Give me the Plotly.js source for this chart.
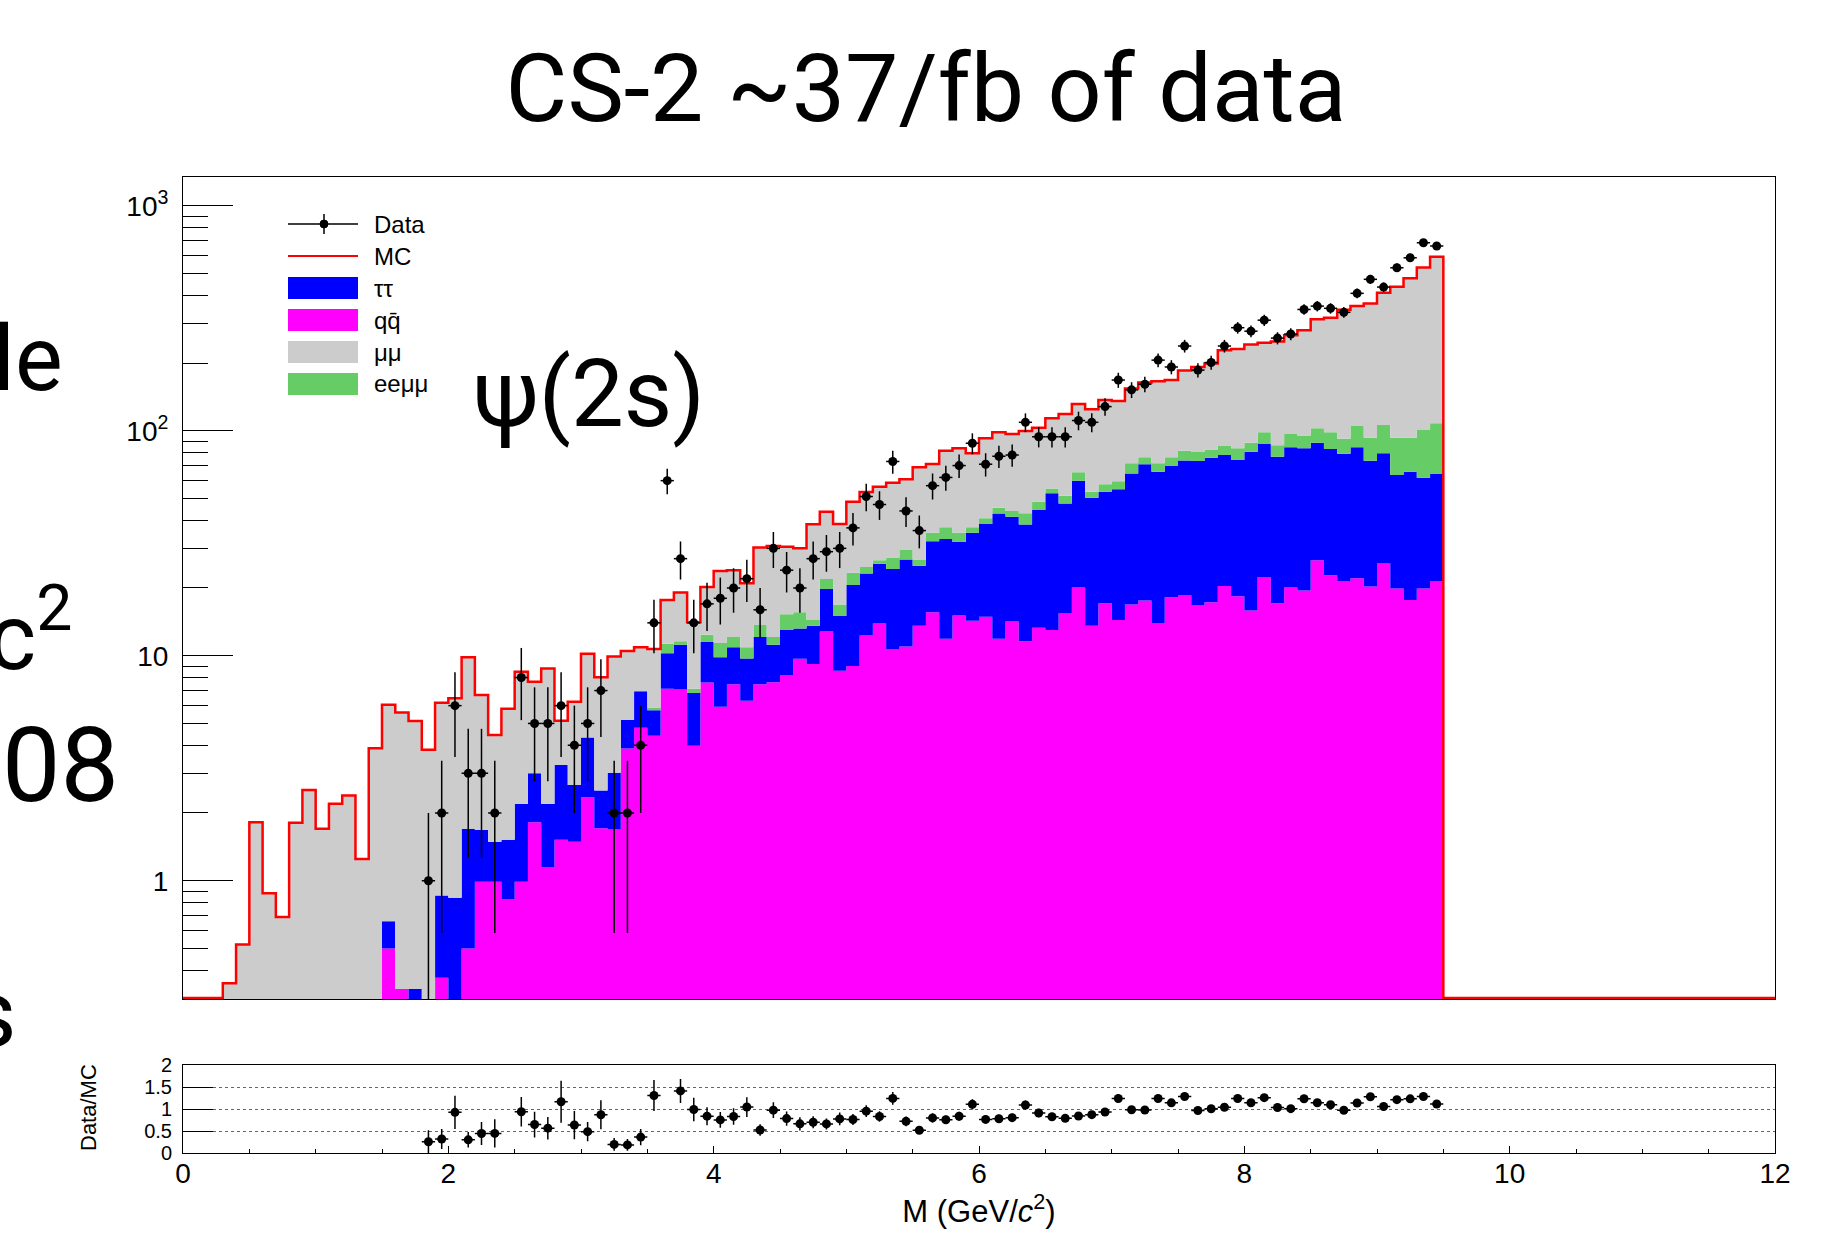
<!DOCTYPE html>
<html>
<head>
<meta charset="utf-8">
<script src="https://cdn.plot.ly/plotly-3.0.1.min.js"></script>
<style>html,body{margin:0;padding:0;background:#fff}#chart{width:1827px;height:1234px}</style>
</head>
<body>
<div id="chart"></div>
<script>
// ================= DATA =================
// bins of 0.1 GeV/c^2 starting at 0 (bin k covers [0.1k, 0.1k+0.1])
const binWidth = 0.1;
const axisBins = 120; // axis runs 0..12

const qqbar = [0,0,0,0,0,0,0,0,0,0, 0,0,0,0,0,0.50,0.33,0,0,0.37,
  0,0.50,0.99,0.99,0.83,0.99,1.82,1.15,1.52,1.49, 2.35,1.71,1.69,3.87,4.79,4.41,7.13,7.08,3.98,7.6,
  5.93,7.47,6.31,7.47,7.62,8.2,9.7,9.19,12.8,8.58, 9.0,12.3,13.9,10.7,11.0,13.6,15.6,11.9,15.1,14.3,
  14.9,11.9,14.2,11.6,13.3,13.0,15.5,20.1,13.6,17.1, 14.4,16.9,17.6,13.9,18.2,18.6,16.8,17.3,20.4,18.4,
  15.9,22.4,17.1,20.1,19.5,26.6,22.8,21.5,22.1,20.3, 25.7,19.9,17.7,19.9,21.5];

const tautau = [0,0,0,0,0,0,0,0,0,0, 0,0,0,0,0,0.16,0,0.33,0,0.49,
  0.84,1.20,0.69,0.50,0.69,1.20,1.18,1.04,1.75,1.17, 1.98,0.81,1.33,1.31,2.17,1.31,3.12,4.12,2.85,3.9,
  3.91,3.43,3.42,4.63,3.58,4.8,3.5,4.41,7.0,6.42, 11.6,10.9,11.7,13.6,15.8,11.5,16.7,21.1,16.9,20.9,
  23.6,31.0,27.3,26.7,31.1,39.7,32.0,39.8,36.8,36.5, 40.5,47.7,53.3,51.8,51.5,55.2,56.5,58.5,57.6,55.7,
  64.8,64.9,59.6,64.3,64.0,61.9,60.2,57.5,62.3,53.3, 53.7,43.6,48.0,41.9,42.7];

const eemumu = [0,0,0,0,0,0,0,0,0,0, 0,0,0,0,0,0,0,0,0,0,
  0,0,0,0,0,0,0,0,0,0, 0,0,0,0,0,0.17,1.05,0.4,0.3,0.9,
  1.56,1.2,1.17,1.6,0.9,2.3,2.4,0.8,2.1,1.9, 2.8,1.6,1.0,3.0,2.7,1.7,2.9,4.2,3.2,2.0,
  2.3,2.6,2.5,4.7,3.9,2.7,3.9,5.4,3.2,4.3, 4.8,7.0,5.3,5.9,6.5,7.6,7.1,6.8,7.5,9.4,
  7.8,11.1,9.6,12.3,11.8,14.0,15.4,13.2,20.6,19.5, 26.6,29.6,27.4,38.9,43.7];

const mumu = [0,0,0,0.35,0.52,1.82,0.88,0.69,1.81,2.53, 1.70,2.20,2.39,1.25,3.88,5.40,5.27,4.80,3.82,5.32,
  5.63,8.14,5.01,2.95,4.29,6.30,4.67,6.59,1.87,3.59, 5.87,5.50,6.91,5.32,3.94,4.81,6.4,7.5,6.97,7.8,
  12.4,11.9,10.1,16.6,18.6,15.2,14.4,24.0,21.7,21.6, 25.0,28.6,29.8,31.4,31.3,42.0,35.9,44.3,48.3,42.2,
  51.7,52.9,52.7,56.7,54.7,58.1,67.2,66.1,70.9,78.9, 75.7,82.6,87.8,94.4,91.8,103.6,111.6,116.4,142.5,147.5,
  153.5,147.6,162.7,169.3,184.7,210.5,219.6,252.8,253,274.9, 304,342.9,382.9,431.3,485.1];

const dataMass = [1.85,1.95,2.05,2.15,2.25,2.35,2.55,2.65,2.75,2.85,2.95,3.05,3.15,3.25,3.35,3.45,
  3.55,3.65,3.75,3.85,3.95,4.05,4.15,4.25,4.35,4.45,4.55,4.65,4.75,4.85,4.95,5.05,5.15,5.25,5.35,5.45,
  5.55,5.65,5.75,5.85,5.95,6.05,6.15,6.25,6.35,6.45,6.55,6.65,6.75,6.85,6.95,7.05,7.15,7.25,7.35,7.45,
  7.55,7.65,7.75,7.85,7.95,8.05,8.15,8.25,8.35,8.45,8.55,8.65,8.75,8.85,8.95,9.05,9.15,9.25,9.35,9.45];
const dataCounts = [1,2,6,3,3,2,8,5,5,6,4,5,7,2,2,4,
  14,60,27,14,17,18,20,22,16,30,24,20,27,29,30,37,51,47,73,44,
  36,57,62,70,88,71,77,78,109,94,94,94,111,109,128,168,152,161,206,192,
  238,186,201,238,287,277,310,258,269,346,358,350,336,408,471,435,530,587,685,662];

const yTickVals = [1, 10, 100, 1000];
const yTickText = ['1', '10', '10<sup>2</sup>', '10<sup>3</sup>'];
const xTickVals = [0, 2, 4, 6, 8, 10, 12];
const ratioTickVals = [0, 0.5, 1, 1.5, 2];
const ratioTickText = ['0', '0.5', '1', '1.5', '2'];

const components = [
  {name: 'qq\u0304', vals: qqbar, color: '#ff00ff'},
  {name: '\u03c4\u03c4', vals: tautau, color: '#0000ff'},
  {name: 'ee\u03bc\u03bc', vals: eemumu, color: '#66cc66'},
  {name: '\u03bc\u03bc', vals: mumu, color: '#cccccc'}
];

// ================= GEOMETRY / STYLE =================
const W = 1827, H = 1234;
const fx = x => x / W, fy = y => 1 - y / H;
const yMin = 0.2971, yMax = 1342;
const lineFloor = 0.301;
const sans = 'Liberation Sans, Arial, sans-serif';
const tickFont = {family: sans, size: 28, color: 'black'};
const slideFont = 'Roboto, Noto Sans, sans-serif';

const nHist = qqbar.length;
const edge = k => Math.round(k * binWidth * 1000) / 1000;
const histEdges = Array.from({length: nHist + 1}, (_, k) => edge(k));
const axisEdges = Array.from({length: axisBins + 1}, (_, k) => edge(k));

const traces = [];
// baseline for stacking fills
traces.push({x: histEdges, y: histEdges.map(() => yMin), mode: 'lines',
  line: {width: 0, shape: 'hv'}, hoverinfo: 'skip', showlegend: false});
const cum = new Array(nHist).fill(0);
components.forEach(c => {
  for (let i = 0; i < nHist; i++) cum[i] += c.vals[i];
  const yv = cum.map(v => Math.max(v, yMin));
  yv.push(yv[yv.length - 1]);
  traces.push({x: histEdges, y: yv, mode: 'lines', name: c.name,
    line: {width: 0, shape: 'hv', color: c.color}, fill: 'tonexty', fillcolor: c.color,
    hoverinfo: 'skip', showlegend: false});
});
const total = cum.slice();
// MC outline over whole axis
const mcLine = axisEdges.slice(0, axisBins).map((_, k) => Math.max(k < nHist ? total[k] : 0, lineFloor));
mcLine.push(mcLine[mcLine.length - 1]);
traces.push({x: axisEdges, y: mcLine, mode: 'lines', name: 'MC',
  line: {color: '#ff0000', width: 2.5, shape: 'hv'}, hoverinfo: 'skip', showlegend: false});

// data points
traces.push({x: dataMass, y: dataCounts, mode: 'markers', name: 'Data',
  marker: {color: 'black', size: 9},
  error_y: {type: 'data', array: dataCounts.map(n => Math.sqrt(n)), width: 0, thickness: 1.5, color: 'black'},
  error_x: {type: 'constant', value: binWidth / 2, width: 0, thickness: 1.5, color: 'black'},
  showlegend: false});

// ratio
const binOf = m => Math.floor(m / binWidth + 1e-6);
const ratio = dataMass.map((m, i) => dataCounts[i] / total[binOf(m)]);
const ratioErr = dataMass.map((m, i) => Math.sqrt(dataCounts[i]) / total[binOf(m)]);
traces.push({x: dataMass, y: ratio, xaxis: 'x2', yaxis: 'y3', mode: 'markers', name: 'Data/MC',
  marker: {color: 'black', size: 9},
  error_y: {type: 'data', array: ratioErr, width: 0, thickness: 1.5, color: 'black'},
  error_x: {type: 'constant', value: binWidth / 2, width: 0, thickness: 1.5, color: 'black'},
  showlegend: false});

// minor log ticks
const minorY = [];
[0.1, 1, 10, 100].forEach(d => { for (let m = 2; m <= 9; m++) { const v = +(m * d).toPrecision(3); if (v > yMin && v < yMax) minorY.push(v); } });

const xDom = [fx(183), fx(1775)];
const layout = {
  width: W, height: H, autosize: false,
  margin: {l: 0, r: 0, t: 0, b: 0},
  paper_bgcolor: 'white', plot_bgcolor: 'white',
  showlegend: false,
  title: {text: 'CS-2 ~37/fb of data', x: fx(926), y: fy(88), xanchor: 'center', yanchor: 'middle',
    font: {family: slideFont, size: 95, color: 'black'}},
  xaxis: {domain: xDom, anchor: 'y', range: [0, 12], showticklabels: false, ticks: '',
    showline: true, mirror: true, linecolor: 'black', linewidth: 1, showgrid: false, zeroline: false},
  yaxis: {domain: [fy(999.3), fy(177)], anchor: 'x', type: 'log', range: [Math.log10(yMin), Math.log10(yMax)],
    tickmode: 'array', tickvals: yTickVals, ticktext: yTickText, ticks: 'inside', ticklen: 50, tickwidth: 1,
    tickcolor: 'black', tickfont: tickFont, ticklabelstandoff: 8,
    minor: {tickmode: 'array', tickvals: minorY, ticks: 'inside', ticklen: 25, tickwidth: 1, tickcolor: 'black', showgrid: false},
    showline: true, mirror: true, linecolor: 'black', linewidth: 1, showgrid: false, zeroline: false},
  xaxis2: {domain: xDom, anchor: 'y3', range: [0, 12], tickmode: 'array', tickvals: xTickVals,
    ticks: 'inside', ticklen: 7, tickwidth: 1, tickcolor: 'black', tickfont: tickFont, ticklabelstandoff: -5,
    minor: {dtick: 0.5, tick0: 0, ticks: 'inside', ticklen: 4, tickwidth: 1, tickcolor: 'black', showgrid: false},
    showline: true, mirror: true, linecolor: 'black', linewidth: 1, showgrid: false, zeroline: false,
    title: {text: 'M (GeV/<i>c</i><sup>2</sup>)', font: {family: sans, size: 31, color: 'black'}, standoff: 4}},
  yaxis3: {domain: [fy(1153.3), fy(1065)], anchor: 'x2', range: [0, 2], tickmode: 'array',
    tickvals: ratioTickVals, ticktext: ratioTickText, ticks: 'inside', ticklen: 30, tickwidth: 1, tickcolor: 'black',
    tickfont: {family: sans, size: 20, color: 'black'}, ticklabelstandoff: 6,
    showgrid: true, gridcolor: '#666', gridwidth: 1, griddash: 'dot',
    showline: true, mirror: true, linecolor: 'black', linewidth: 1, zeroline: false},
  annotations: [],
  shapes: []
};

// text annotations
const ann = (text, x, y, size, xanchor, extra) => Object.assign({text, x: fx(x), y: fy(y), xref: 'paper', yref: 'paper',
  xanchor: xanchor || 'center', yanchor: 'middle', showarrow: false,
  font: {family: slideFont, size, color: 'black'}}, extra || {});
layout.annotations.push(ann('\u03c8(2s)', 589, 394, 94));
layout.annotations.push(ann('le', 65, 360, 90, 'right'));
layout.annotations.push(ann('c<sup>2</sup>', 74, 630, 92, 'right'));
layout.annotations.push(ann('08', 121, 765, 104, 'right'));
layout.annotations.push(ann('s', 19, 1014, 94, 'right'));
layout.annotations.push(ann('Data/MC', 88, 1108, 22, 'center',
  {textangle: -90, font: {family: sans, size: 22, color: 'black'}}));

// legend (drawn like the ROOT legend box contents)
const legFont = {family: sans, size: 24, color: 'black'};
const legRows = [
  {label: 'Data', y: 224, kind: 'data'},
  {label: 'MC', y: 256, kind: 'line', color: '#ff0000'},
  {label: components[1].name, y: 288, kind: 'box', color: components[1].color},
  {label: components[0].name, y: 320, kind: 'box', color: components[0].color},
  {label: components[3].name, y: 352, kind: 'box', color: components[3].color},
  {label: components[2].name, y: 384, kind: 'box', color: components[2].color}
];
legRows.forEach(r => {
  const p = {xref: 'paper', yref: 'paper'};
  if (r.kind === 'data') {
    layout.shapes.push(Object.assign({type: 'line', x0: fx(288), x1: fx(358), y0: fy(r.y), y1: fy(r.y), line: {color: 'black', width: 1.5}}, p));
    layout.shapes.push(Object.assign({type: 'line', x0: fx(324), x1: fx(324), y0: fy(r.y - 10), y1: fy(r.y + 10), line: {color: 'black', width: 1.5}}, p));
    layout.shapes.push(Object.assign({type: 'circle', x0: fx(320), x1: fx(328), y0: fy(r.y - 4), y1: fy(r.y + 4), fillcolor: 'black', line: {color: 'black', width: 1}}, p));
  } else if (r.kind === 'line') {
    layout.shapes.push(Object.assign({type: 'line', x0: fx(288), x1: fx(358), y0: fy(r.y), y1: fy(r.y), line: {color: r.color, width: 2}}, p));
  } else {
    layout.shapes.push(Object.assign({type: 'rect', x0: fx(288), x1: fx(358), y0: fy(r.y - 11), y1: fy(r.y + 11), fillcolor: r.color, line: {width: 0}}, p));
  }
  layout.annotations.push({text: r.label, x: fx(372), y: fy(r.y), xref: 'paper', yref: 'paper',
    xanchor: 'left', yanchor: 'middle', showarrow: false, font: legFont});
});

Plotly.newPlot('chart', traces, layout, {displayModeBar: false, staticPlot: true});
</script>
</body>
</html>
